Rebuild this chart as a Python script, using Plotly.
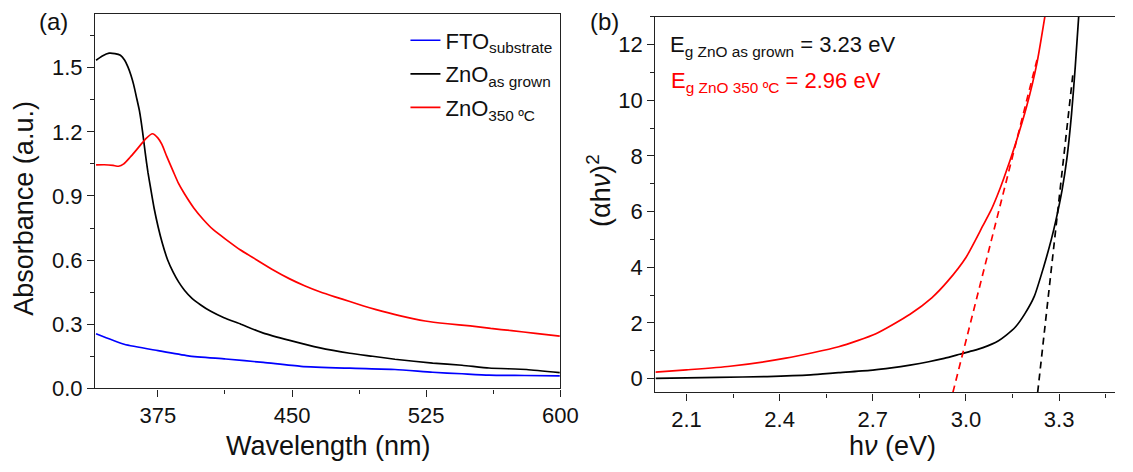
import plotly.graph_objects as go

W, H = 1133, 472
FONT = "Liberation Sans, Arial, sans-serif"

# ---------------- Panel (a): absorbance spectra ----------------
wl_fto = [340.5, 356.2, 375.2, 392.0, 413.0, 434.0, 455.0, 482.3, 507.5, 528.6, 545.0, 560.1, 580.0, 599.6]
abs_fto = [0.255, 0.206, 0.176, 0.152, 0.137, 0.121, 0.103, 0.094, 0.088, 0.075, 0.068, 0.062, 0.060, 0.058]

wl_grown = [340.5, 344.0, 347.8, 351.0, 354.1, 356.5, 358.3, 360.0, 361.5, 363.0, 364.7, 366.5,
            368.0, 369.5, 371.0, 373.0, 375.2, 377.5, 380.4, 383.5, 386.7, 390.0, 394.1, 399.0,
            404.6, 412.0, 421.4, 434.0, 448.7, 465.0, 482.3, 495.0, 507.5, 528.6, 545.0, 560.1,
            581.1, 599.6]
abs_grown = [1.535, 1.555, 1.568, 1.566, 1.558, 1.535, 1.504, 1.465, 1.421, 1.365, 1.300, 1.200,
             1.100, 1.010, 0.936, 0.840, 0.755, 0.680, 0.603, 0.545, 0.497, 0.458, 0.421, 0.390,
             0.360, 0.330, 0.300, 0.258, 0.224, 0.190, 0.164, 0.150, 0.136, 0.118, 0.108, 0.095,
             0.088, 0.073]

wl_350 = [340.5, 345.0, 350.0, 353.1, 356.0, 359.4, 362.5, 365.5, 368.5, 372.0, 375.0, 377.3,
          380.0, 383.6, 386.5, 389.9, 395.0, 400.4, 406.0, 413.0, 421.0, 429.8, 439.0, 448.7,
          457.0, 465.5, 474.0, 482.3, 490.0, 497.0, 510.0, 524.4, 537.0, 549.6, 561.0, 572.7,
          586.0, 599.6]
abs_350 = [1.045, 1.046, 1.043, 1.039, 1.050, 1.080, 1.110, 1.140, 1.170, 1.191, 1.172, 1.141,
           1.085, 1.015, 0.960, 0.910, 0.845, 0.790, 0.742, 0.697, 0.648, 0.603, 0.556, 0.512,
           0.480, 0.452, 0.428, 0.406, 0.385, 0.368, 0.340, 0.315, 0.302, 0.292, 0.280, 0.270,
           0.257, 0.244]

# ---------------- Panel (b): Tauc plot ----------------
E_grown = [2.00, 2.10, 2.20, 2.36, 2.50, 2.59, 2.70, 2.76, 2.82, 2.88, 2.93, 2.98, 3.02, 3.055,
           3.105, 3.13, 3.16, 3.19, 3.22, 3.25, 3.275, 3.29, 3.31, 3.325, 3.34, 3.352, 3.363]
T_grown = [0.00, 0.02, 0.04, 0.07, 0.13, 0.21, 0.30, 0.38, 0.48, 0.60, 0.72, 0.87, 0.99, 1.11,
           1.36, 1.56, 1.86, 2.33, 2.95, 4.00, 5.00, 5.70, 6.80, 7.90, 9.50, 11.2, 13.0]

E_350 = [2.00, 2.10, 2.24, 2.42, 2.59, 2.71, 2.82, 2.89, 2.94, 3.00, 3.055, 3.08, 3.10, 3.122,
         3.16, 3.196, 3.228, 3.254]
T_350 = [0.23, 0.31, 0.44, 0.73, 1.14, 1.61, 2.31, 2.90, 3.48, 4.35, 5.50, 6.03, 6.55, 7.20,
         8.45, 9.80, 11.3, 13.0]

fit_grown_E = [3.231, 3.345]
fit_grown_T = [-0.5, 11.0]
fit_350_E = [2.958, 3.232]
fit_350_T = [-0.5, 11.6]

xa_ticks = [375, 450, 525, 600]
ya_ticks = [0.0, 0.3, 0.6, 0.9, 1.2, 1.5]
xb_ticks = [2.1, 2.4, 2.7, 3.0, 3.3]
yb_ticks = [0, 2, 4, 6, 8, 10, 12]

BLUE, BLACK, RED = "#0000ff", "#000000", "#ff0000"
LW = 1.7


def solid(color, sm=0.6):
    return dict(color=color, width=LW, shape="spline", smoothing=sm)


fig = go.Figure()
fig.add_trace(go.Scatter(x=wl_fto, y=abs_fto, mode="lines", line=solid(BLUE),
                         name="FTO<sub>substrate</sub>", legendgroup="g1", xaxis="x", yaxis="y"))
fig.add_trace(go.Scatter(x=wl_grown, y=abs_grown, mode="lines", line=solid(BLACK, 0.5),
                         name="ZnO<sub>as grown</sub>", legendgroup="g2", xaxis="x", yaxis="y"))
fig.add_trace(go.Scatter(x=wl_350, y=abs_350, mode="lines", line=solid(RED, 0.5),
                         name="ZnO<sub>350 ºC</sub>", legendgroup="g3", xaxis="x", yaxis="y"))

fig.add_trace(go.Scatter(x=E_350, y=T_350, mode="lines", line=solid(RED, 0.6),
                         showlegend=False, xaxis="x2", yaxis="y2"))
fig.add_trace(go.Scatter(x=E_grown, y=T_grown, mode="lines", line=solid(BLACK, 0.6),
                         showlegend=False, xaxis="x2", yaxis="y2"))
fig.add_trace(go.Scatter(x=fit_350_E, y=fit_350_T, mode="lines",
                         line=dict(color=RED, width=LW, dash="7px,5px"),
                         showlegend=False, xaxis="x2", yaxis="y2"))
fig.add_trace(go.Scatter(x=fit_grown_E, y=fit_grown_T, mode="lines",
                         line=dict(color=BLACK, width=LW, dash="7px,5px"),
                         showlegend=False, xaxis="x2", yaxis="y2"))

axis_common = dict(showline=True, linecolor="#222", linewidth=1.4, ticks="outside",
                   ticklen=7, tickwidth=1.4, tickcolor="#222", showgrid=False, zeroline=False,
                   tickfont=dict(family=FONT, size=22, color="#111"))

fig.update_layout(
    width=W, height=H,
    margin=dict(l=0, r=0, t=0, b=0),
    paper_bgcolor="white", plot_bgcolor="white",
    font=dict(family=FONT, color="#111"),
    showlegend=True,
    legend=dict(x=412 / W, y=1 - 20 / H, xanchor="left", yanchor="top",
                font=dict(family=FONT, size=22, color="#111"), bgcolor="rgba(0,0,0,0)",
                tracegroupgap=2, itemwidth=30),
    xaxis=dict(domain=[96.7 / W, 569.5 / W], range=[340, 600], anchor="y",
               tickvals=xa_ticks, mirror=True,
               minor=dict(dtick=37.5, tick0=375, ticks="outside", ticklen=4, tickwidth=1.4,
                          tickcolor="#222"),
               **axis_common),
    yaxis=dict(domain=[1 - 399.3 / H, 1 - 14.7 / H], range=[0, 1.75], anchor="x",
               tickvals=ya_ticks, tickformat=".1f", mirror=True,
               minor=dict(dtick=0.15, tick0=0, ticks="outside", ticklen=4, tickwidth=1.4,
                          tickcolor="#222"),
               **axis_common),
    xaxis2=dict(domain=[666 / W, 1.0], range=[2.0, 3.48], anchor="y2",
                tickvals=xb_ticks, tickformat=".1f", mirror=True,
                minor=dict(dtick=0.15, tick0=2.1, ticks="outside", ticklen=4, tickwidth=1.4,
                           tickcolor="#222"),
                **axis_common),
    yaxis2=dict(domain=[1 - 403.5 / H, 1 - 17.3 / H], range=[-0.5, 13], anchor="x2",
                tickvals=yb_ticks, mirror=False,
                minor=dict(dtick=1, tick0=0, ticks="outside", ticklen=4, tickwidth=1.4,
                           tickcolor="#222"),
                **axis_common),
)

ann = [
    dict(text="Wavelength (nm)", x=333.5 / W, y=1 - 459 / H, size=27, color="#111"),
    dict(text="Absorbance (a.u.)", x=24 / W, y=1 - 214 / H, size=27, color="#111", angle=-90),
    dict(text="h<i>ν</i> (eV)", x=906.7 / W, y=1 - 459 / H, size=27, color="#111"),
    dict(text="(αh<i>ν</i>)<sup>2</sup>", x=608 / W, y=1 - 196 / H, size=27, color="#111", angle=-90),
    dict(text="(a)", x=54 / W, y=1 - 22 / H, size=24, color="#111"),
    dict(text="(b)", x=614 / W, y=1 - 22 / H, size=24, color="#111"),
]
for a in ann:
    fig.add_annotation(text=a["text"], xref="paper", yref="paper", x=a["x"], y=a["y"],
                       xanchor="center", yanchor="middle", showarrow=False,
                       textangle=a.get("angle", 0),
                       font=dict(family=FONT, size=a["size"], color=a["color"]))

fig.add_annotation(text="E<sub>g ZnO as grown</sub> = 3.23 eV", xref="paper", yref="paper",
                   x=679 / W, y=1 - 47 / H, xanchor="left", yanchor="middle", showarrow=False,
                   font=dict(family=FONT, size=22, color="#111"))
fig.add_annotation(text="E<sub>g ZnO 350 ºC</sub> = 2.96 eV", xref="paper", yref="paper",
                   x=680 / W, y=1 - 84 / H, xanchor="left", yanchor="middle", showarrow=False,
                   font=dict(family=FONT, size=22, color=RED))

fig.write_html("out.html")
